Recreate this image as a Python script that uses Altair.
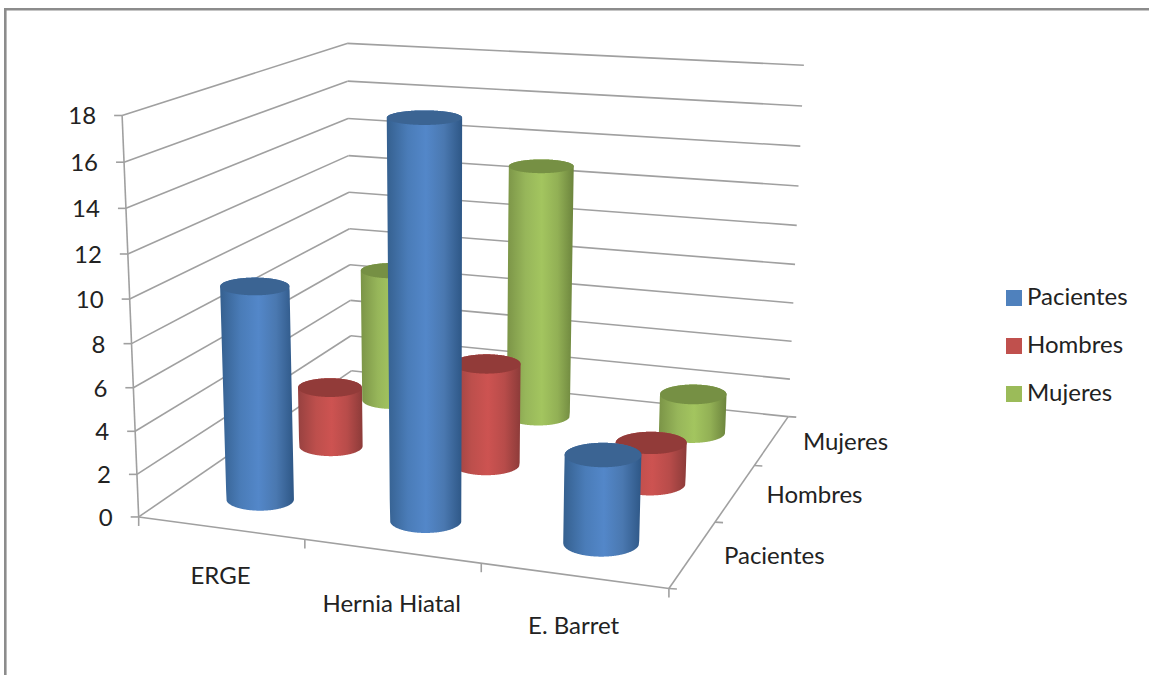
import altair as alt
import numpy as np
import pandas as pd

W, H = 1149, 675

# Chart values
CATEGORIES = ["ERGE", "Hernia Hiatal", "E. Barret"]
SERIES = ["Pacientes", "Hombres", "Mujeres"]
PACIENTES = [10, 18, 4]
HOMBRES = [3, 5, 2]
MUJERES = [7, 13, 2]
VALUES = [PACIENTES, HOMBRES, MUJERES]
VALUE_TICKS = list(range(0, 20, 2))

# Cylinder shading: body gradient stops and flat cap colour per series
BODY = {
    "Pacientes": ["#35608f", "#4a7cb8", "#5387c9", "#4a78b0", "#2e5786"],
    "Hombres": ["#974140", "#bd4f4c", "#cd5351", "#b84c4a", "#8c3b39"],
    "Mujeres": ["#7b9447", "#97b65a", "#a3c55f", "#92b055", "#6c843d"],
}
CAP = {"Pacientes": "#3b6493", "Hombres": "#923b39", "Mujeres": "#769044"}
LEGEND = ["#4f81bd", "#c0504d", "#9bbb59"]
GRID = "#a0a0a0"
FRAME = "#8c8c8c"
INK = "#222222"
FONT = "Lato"
FONT_SIZE = 24

# Camera calibration: scene coordinates (category, row, value) -> canvas position
SCENE = [
    (0, 0, 18), (0, 0, 12), (0, 0, 6), (0, 0, 0),
    (0, 3, 18), (0, 3, 12), (0, 3, 6), (0, 3, 0),
    (3, 3, 18), (3, 3, 12), (3, 3, 6), (3, 3, 0),
    (1, 0, 0), (2, 0, 0), (3, 0, 0), (3, 1, 0), (3, 2, 0),
]
CANVAS = [
    (123, 115), (127.5, 253), (134, 387), (139, 516.7),
    (346.7, 43.3), (347.3, 155.7), (350, 265), (352, 372),
    (804, 66), (799, 186.7), (793.8, 303), (788.7, 414),
    (304, 540), (482, 564), (668, 590), (714.6, 522), (753.7, 465),
]

# Vertical label offsets under each category slot
CATEGORY_LABEL_DROP = [49, 54, 51]


def fit_camera(scene, canvas):
    rows, rhs = [], []
    for (u, v, h), (px, py) in zip(scene, canvas):
        rows.append([u, v, h, 1, 0, 0, 0, 0, -px * u, -px * v, -px * h])
        rhs.append(px)
        rows.append([0, 0, 0, 0, u, v, h, 1, -py * u, -py * v, -py * h])
        rhs.append(py)
    sol = np.linalg.lstsq(np.array(rows, float), np.array(rhs, float), rcond=None)[0]
    return np.append(sol, 1.0).reshape(3, 4)


CAMERA = fit_camera(SCENE, CANVAS)


def project(u, v, h):
    x, y, w = CAMERA @ np.array([u, v, h, 1.0])
    return x / w, y / w


def ellipse(u, v, h, radius=0.21):
    """Outline of a cylinder section, in canvas units."""
    cx, cy = project(u, v, h)
    cy += 1.2
    a = radius * (project(u + 0.5, v, h)[0] - project(u - 0.5, v, h)[0])
    b = a * (0.15 + 0.00037 * cy)
    t = np.linspace(0, 2 * np.pi, 121)
    return np.column_stack([cx + a * np.cos(t), cy + b * np.sin(t)])


def convex_band(points):
    """Upper and lower edge of a convex outline, sampled along x."""
    pts = sorted(set(map(tuple, np.round(points, 3))))

    def chain(seq):
        out = []
        for p in seq:
            while len(out) > 1 and (
                (out[-1][0] - out[-2][0]) * (p[1] - out[-2][1])
                - (out[-1][1] - out[-2][1]) * (p[0] - out[-2][0])
            ) <= 0:
                out.pop()
            out.append(p)
        return np.array(out)

    low = chain(pts)
    high = chain(pts[::-1])[::-1]
    xs = np.append(np.arange(pts[0][0], pts[-1][0], 0.5), pts[-1][0])
    return pd.DataFrame({
        "x": xs,
        "y": np.interp(xs, low[:, 0], low[:, 1]),
        "y2": np.interp(xs, high[:, 0], high[:, 1]),
    })


x_enc = alt.X("x:Q", scale=alt.Scale(domain=[0, W], nice=False, zero=False), axis=None)
y_enc = alt.Y("y:Q", scale=alt.Scale(domain=[H, 0], nice=False, zero=False), axis=None)


def segments(rows, color, width):
    df = pd.DataFrame(rows, columns=["x", "y", "x2", "y2"])
    return alt.Chart(df).mark_rule(color=color, strokeWidth=width).encode(
        x_enc, y_enc, x2="x2:Q", y2="y2:Q"
    )


def labels(rows, align):
    df = pd.DataFrame(rows, columns=["x", "y", "label"])
    return alt.Chart(df).mark_text(
        align=align, baseline="middle", font=FONT, fontSize=FONT_SIZE, color=INK
    ).encode(x_enc, y_enc, text="label:N")


layers = []

# Outer frame along the top and left of the canvas
layers.append(segments([(4, 9.3, W, 9.3), (5.3, 9.3, 5.3, H)], FRAME, 2.6))

# Walls: value gridlines on the left and back walls
wall = []
for v in VALUE_TICKS:
    a, b, c = project(0, 0, v), project(0, 3, v), project(3, 3, v)
    wall += [(*a, *b), (*b, *c)]
    wall.append((a[0] - 8, a[1], *a))
layers.append(segments(wall, GRID, 1.6))

# Axis edges and their tick marks
front_l, front_r, back_r = project(0, 0, 0), project(3, 0, 0), project(3, 3, 0)
edges = [
    (*project(0, 0, VALUE_TICKS[-1]), *front_l),
    (*front_l, *front_r),
    (*front_r, *back_r),
]
for i in range(len(CATEGORIES) + 1):
    p = project(i, 0, 0)
    edges.append((*p, p[0], p[1] + 9))
for j in range(len(SERIES) + 1):
    p = project(3, j, 0)
    edges.append((*p, p[0] + 8, p[1] + 0.5))
layers.append(segments(edges, GRID, 1.6))

# Cylinders, back row first so nearer ones overlap
for j in reversed(range(len(SERIES))):
    name = SERIES[j]
    stops = [
        alt.GradientStop(color=c, offset=o)
        for c, o in zip(BODY[name], [0, 0.28, 0.52, 0.76, 1])
    ]
    gradient = alt.LinearGradient(gradient="linear", stops=stops, x1=0, x2=1, y1=0, y2=0)
    for i in range(len(CATEGORIES)):
        value = VALUES[j][i]
        base = ellipse(i + 0.5, j + 0.5, 0)
        top = ellipse(i + 0.5, j + 0.5, value)
        body = convex_band(np.vstack([base, top]))
        cap = convex_band(top)
        layers.append(alt.Chart(body).mark_area(color=gradient).encode(x_enc, y_enc, y2="y2:Q"))
        layers.append(alt.Chart(cap).mark_area(color=CAP[name]).encode(x_enc, y_enc, y2="y2:Q"))

# Axis labels
layers.append(labels(
    [(project(0, 0, v)[0] - 26, project(0, 0, v)[1] + 2, str(v)) for v in VALUE_TICKS], "right"
))
layers.append(labels(
    [
        (project(i + 0.5, 0, 0)[0], project(i + 0.5, 0, 0)[1] + CATEGORY_LABEL_DROP[i], c)
        for i, c in enumerate(CATEGORIES)
    ],
    "center",
))
layers.append(labels(
    [(project(3, j + 0.5, 0)[0] + 31, project(3, j + 0.5, 0)[1] + 3, s) for j, s in enumerate(SERIES)],
    "left",
))

# Legend, carried by an empty-sized point layer
legend_df = pd.DataFrame({"x": [0, 0, 0], "y": [0, 0, 0], "series": SERIES})
layers.append(
    alt.Chart(legend_df).mark_point(filled=True, size=0).encode(
        x_enc,
        y_enc,
        color=alt.Color(
            "series:N",
            scale=alt.Scale(domain=SERIES, range=LEGEND),
            legend=alt.Legend(
                title=None,
                orient="none",
                legendX=1002,
                legendY=286,
                symbolType="square",
                symbolSize=256,
                symbolStrokeWidth=0,
                symbolOpacity=1,
                labelFont=FONT,
                labelFontSize=FONT_SIZE,
                labelColor=INK,
                labelOffset=1,
                rowPadding=24,
            ),
        ),
    )
)

chart = (
    alt.layer(*layers)
    .properties(
        width=W,
        height=H,
        padding=0,
        background="white",
        autosize=alt.AutoSizeParams(type="none", contains="padding"),
    )
    .configure_view(stroke=None)
)

chart.save("out.html", embed_options={"renderer": "svg", "actions": False})
